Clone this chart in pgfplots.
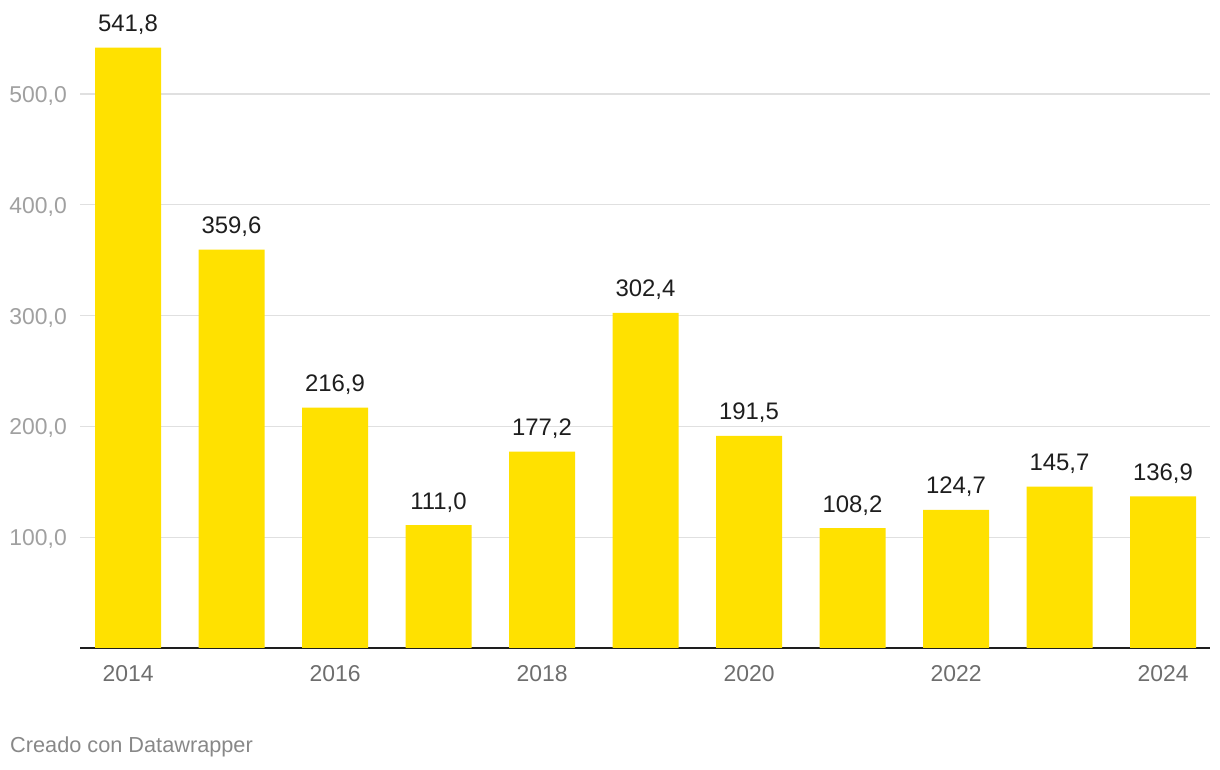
\documentclass[border=0pt]{standalone}
\usepackage{pgfplots}
\pgfplotsset{compat=1.18}
\usepackage{fontspec}
\setmainfont{Liberation Sans}
\definecolor{baryellow}{RGB}{255,225,0}
\definecolor{gridgray}{RGB}{224,224,224}
\definecolor{ylabgray}{RGB}{160,160,160}
\definecolor{xlabgray}{RGB}{110,110,110}
\definecolor{footgray}{RGB}{136,136,136}
\definecolor{valblack}{RGB}{30,30,30}
\begin{document}
\begin{tikzpicture}[x=1bp,y=1bp]
\useasboundingbox (0,0) rectangle (1220,770);
\begin{axis}[
  at={(80bp,122bp)}, anchor=south west,
  scale only axis,
  width=1130bp, height=609.4bp,
  xmin=-0.464, xmax=10.454,
  ymin=0, ymax=550,
  axis line style={draw=none},
  major tick length=0pt,
  ytick={100,200,300,400,500},
  ymajorgrids,
  grid style={gridgray, line width=1.2bp},
  extra y ticks={0},
  extra y tick labels={},
  extra y tick style={grid style={valblack, line width=2bp}},
  xtick={0,2,4,6,8,10},
  xticklabels={2014,2016,2018,2020,2022,2024},
  /pgf/number format/.cd, fixed, fixed zerofill, precision=1, use comma, 1000 sep={}, assume math mode=true,
  /pgfplots/.cd,
  yticklabel style={font=\fontsize{23}{27}\selectfont, text=ylabgray, anchor=base east, inner sep=0pt, xshift=-13bp, yshift=-8.5bp},
  xticklabel style={font=\fontsize{23}{27}\selectfont, text=xlabgray, anchor=base, inner sep=0pt, yshift=-34bp},
  ybar, bar width=66bp, bar shift=0pt,
  nodes near coords,
  every node near coord/.append style={font=\fontsize{24}{28}\selectfont, text=valblack, anchor=base, inner sep=0pt, yshift=16bp},
  clip=false,
]
\addplot[fill=baryellow, draw=none] coordinates {
(0,541.8) (1,359.6) (2,216.9) (3,111.0) (4,177.2) (5,302.4) (6,191.5) (7,108.2) (8,124.7) (9,145.7) (10,136.9)
};
\end{axis}
\node[anchor=base west, inner sep=0pt, text=footgray, font=\fontsize{21.8}{25}\selectfont] at (10,17) {Creado con Datawrapper};
\end{tikzpicture}
\end{document}
